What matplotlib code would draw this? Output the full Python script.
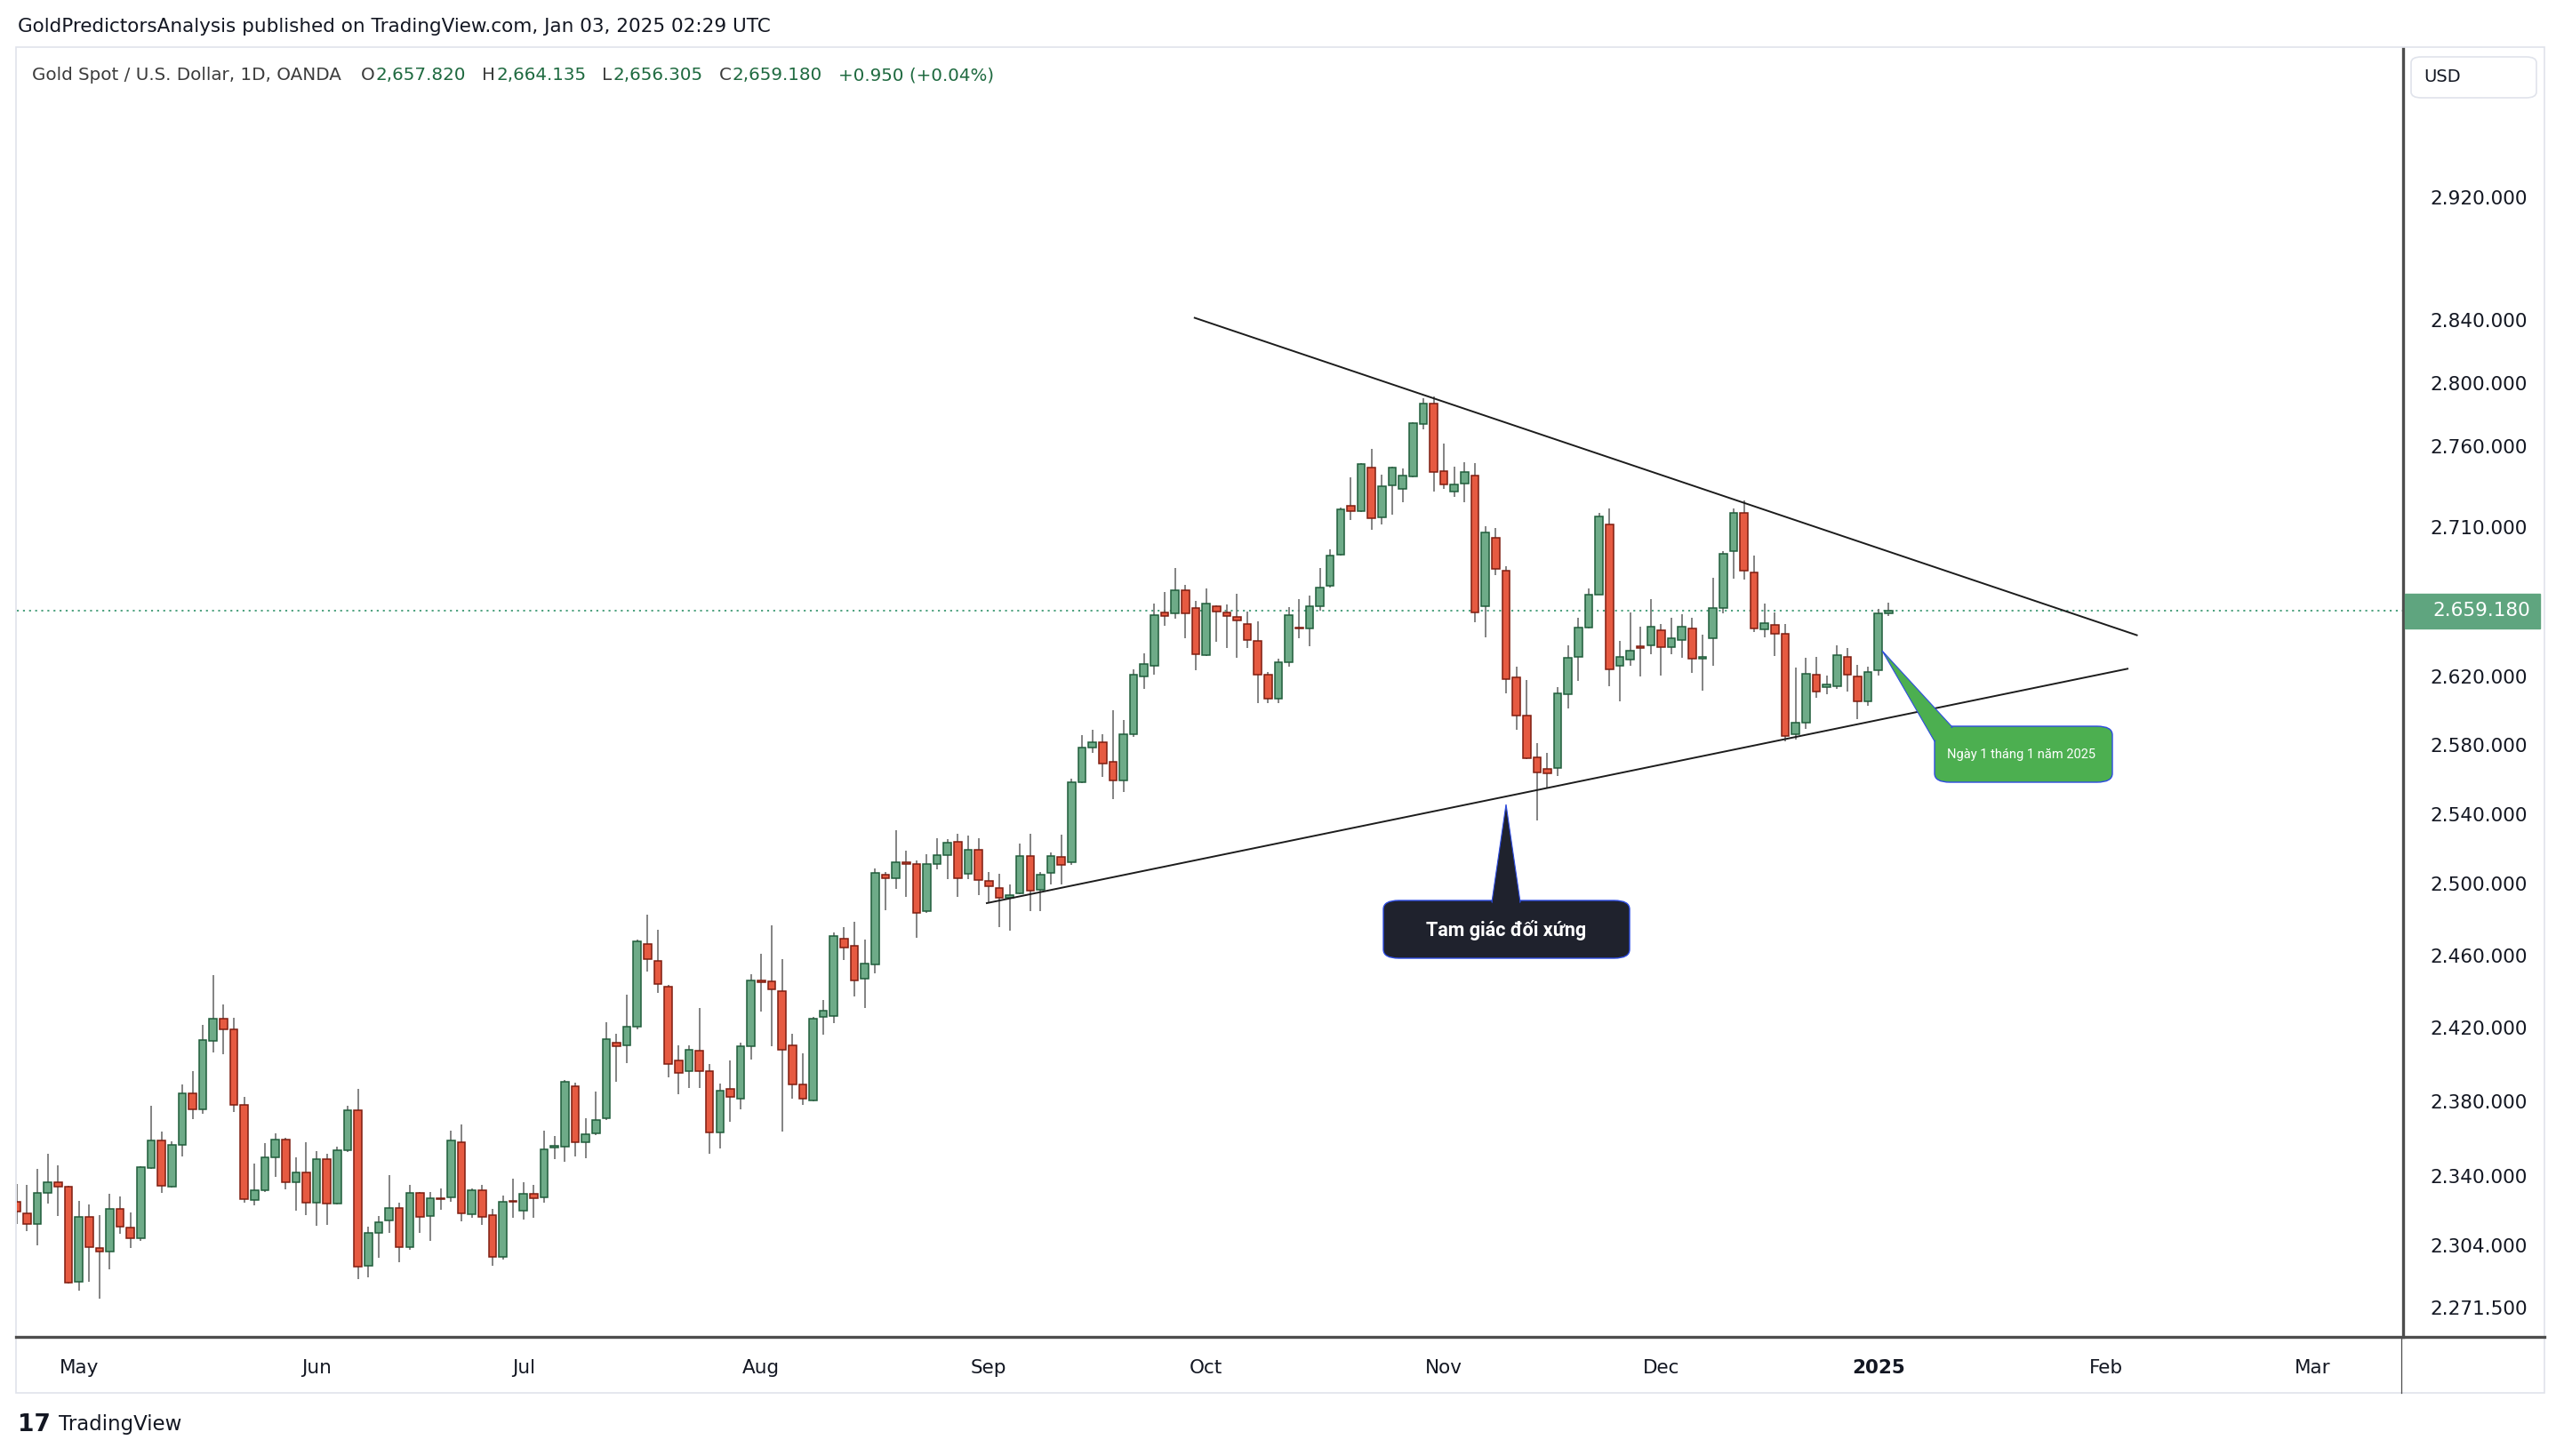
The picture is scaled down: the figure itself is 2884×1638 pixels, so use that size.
import matplotlib
matplotlib.use('Agg')
import matplotlib.pyplot as plt
from matplotlib.patches import FancyBboxPatch, Polygon, Rectangle
from matplotlib.lines import Line2D
import numpy as np
import pandas as pd

# ---- data (XAUUSD daily, OANDA) ----
holidays = ['2024-12-25', '2025-01-01']
dates = pd.bdate_range('2024-04-23', '2025-01-03').drop(pd.to_datetime(holidays))

opens = [2326.7, 2320.6, 2314.9, 2331.2, 2337.1, 2334.5, 2284.8, 2318.7, 2302.2, 2300.7,
         2322.9, 2312.9, 2307.7, 2344.5, 2359.1, 2334.7, 2356.9, 2384.6, 2375.7, 2413.0,
         2425.1, 2419.2, 2378.1, 2327.5, 2332.5, 2350.0, 2359.5, 2336.8, 2341.9, 2326.3,
         2349.4, 2325.5, 2353.7, 2375.1, 2293.2, 2310.5, 2316.7, 2323.5, 2303.0, 2331.1,
         2319.1, 2328.5, 2329.0, 2358.2, 2319.9, 2332.6, 2319.4, 2298.0, 2327.0, 2322.1,
         2330.6, 2329.0, 2355.5, 2355.8, 2388.4, 2358.2, 2362.9, 2370.8, 2411.8, 2410.5,
         2420.5, 2466.2, 2457.0, 2442.4, 2402.0, 2396.2, 2407.3, 2396.5, 2363.2, 2386.7,
         2381.6, 2409.7, 2446.2, 2445.4, 2440.1, 2410.2, 2389.1, 2380.4, 2425.8, 2426.6,
         2469.2, 2465.4, 2447.1, 2454.9, 2505.4, 2503.4, 2512.4, 2511.2, 2484.5, 2511.2,
         2516.2, 2524.1, 2505.7, 2519.6, 2501.7, 2497.9, 2492.0, 2494.9, 2515.8, 2496.5,
         2506.5, 2515.5, 2512.4, 2558.4, 2578.2, 2581.5, 2569.9, 2559.2, 2586.1, 2620.0,
         2626.6, 2658.4, 2658.0, 2672.0, 2661.2, 2632.6, 2662.0, 2658.6, 2655.7, 2651.2,
         2641.3, 2621.0, 2606.9, 2628.6, 2649.5, 2649.0, 2662.0, 2674.2, 2693.1, 2723.0,
         2719.8, 2747.1, 2716.3, 2735.7, 2733.9, 2741.2, 2774.0, 2786.7, 2744.8, 2732.0,
         2737.0, 2742.1, 2662.0, 2703.7, 2683.4, 2619.8, 2597.1, 2572.8, 2565.8, 2566.6,
         2609.8, 2632.0, 2649.4, 2669.3, 2712.0, 2626.7, 2630.4, 2638.1, 2638.5, 2647.8,
         2637.8, 2641.8, 2648.7, 2630.5, 2642.7, 2661.2, 2695.4, 2718.8, 2682.7, 2648.3,
         2651.0, 2645.8, 2586.3, 2593.0, 2621.0, 2613.6, 2614.5, 2631.9, 2620.0, 2605.2,
         2623.7, 2657.82]
highs = [2336.0, 2335.7, 2343.8, 2351.8, 2345.9, 2335.2, 2327.2, 2325.2, 2319.4, 2330.9,
         2329.4, 2320.9, 2345.5, 2377.5, 2363.7, 2358.6, 2389.3, 2396.6, 2421.6, 2448.8,
         2433.0, 2425.3, 2382.5, 2346.7, 2357.6, 2362.7, 2360.5, 2350.3, 2358.4, 2353.2,
         2351.8, 2356.0, 2377.5, 2387.0, 2313.6, 2319.0, 2340.6, 2326.0, 2335.7, 2332.0,
         2331.7, 2333.6, 2364.2, 2367.7, 2333.6, 2335.7, 2322.9, 2330.1, 2338.6, 2337.1,
         2335.7, 2364.2, 2361.3, 2391.6, 2390.0, 2370.8, 2385.5, 2422.9, 2416.9, 2438.1,
         2468.7, 2482.6, 2474.2, 2443.7, 2410.5, 2410.5, 2430.7, 2400.1, 2389.9, 2402.2,
         2412.1, 2449.5, 2460.8, 2476.5, 2457.9, 2416.9, 2406.2, 2426.0, 2435.1, 2472.5,
         2475.7, 2478.6, 2468.7, 2508.7, 2506.6, 2530.5, 2518.7, 2513.2, 2517.0, 2526.0,
         2525.5, 2528.3, 2527.4, 2525.8, 2506.6, 2505.7, 2499.5, 2523.0, 2528.3, 2506.6,
         2517.8, 2528.0, 2560.2, 2585.7, 2588.7, 2586.1, 2600.0, 2594.4, 2624.3, 2633.7,
         2663.8, 2670.7, 2685.4, 2674.7, 2665.3, 2672.8, 2662.6, 2662.9, 2669.8, 2659.0,
         2653.2, 2622.7, 2630.5, 2661.4, 2666.6, 2668.5, 2685.4, 2696.3, 2722.1, 2740.7,
         2749.5, 2758.7, 2742.5, 2747.6, 2746.1, 2775.4, 2790.4, 2791.4, 2762.0, 2747.6,
         2750.3, 2749.5, 2710.7, 2709.8, 2686.1, 2626.2, 2618.0, 2580.8, 2575.4, 2613.8,
         2638.4, 2655.2, 2672.8, 2719.1, 2721.8, 2641.5, 2658.3, 2650.0, 2666.6, 2651.2,
         2655.4, 2657.2, 2655.4, 2644.9, 2679.3, 2695.6, 2721.7, 2726.6, 2692.9, 2663.8,
         2658.6, 2651.6, 2625.4, 2631.3, 2631.9, 2620.5, 2638.6, 2637.3, 2627.2, 2626.0,
         2660.7, 2664.135]
lows = [2315.0, 2311.3, 2304.0, 2325.5, 2319.0, 2284.0, 2280.5, 2284.8, 2276.3, 2291.4,
        2309.8, 2302.5, 2306.0, 2343.8, 2331.1, 2334.1, 2350.5, 2370.5, 2373.2, 2406.3,
        2405.7, 2374.3, 2326.3, 2324.8, 2332.0, 2339.7, 2333.4, 2321.8, 2319.5, 2314.0,
        2314.6, 2325.0, 2352.9, 2286.2, 2287.0, 2297.3, 2310.2, 2295.2, 2301.4, 2310.2,
        2306.0, 2322.6, 2326.7, 2316.4, 2318.0, 2314.5, 2293.4, 2296.2, 2318.3, 2317.5,
        2318.3, 2326.3, 2349.1, 2347.8, 2350.6, 2349.6, 2362.1, 2370.0, 2390.5, 2400.6,
        2419.2, 2450.8, 2439.1, 2393.0, 2383.8, 2387.5, 2387.5, 2352.2, 2355.0, 2368.9,
        2375.9, 2402.8, 2428.8, 2410.0, 2364.0, 2381.4, 2378.0, 2380.0, 2416.1, 2422.4,
        2457.5, 2437.0, 2431.0, 2450.0, 2485.4, 2497.0, 2492.9, 2469.9, 2483.7, 2508.4,
        2502.9, 2492.9, 2502.9, 2493.7, 2489.6, 2475.5, 2473.8, 2494.0, 2484.5, 2484.5,
        2499.8, 2499.5, 2510.8, 2557.9, 2575.2, 2561.3, 2548.6, 2552.4, 2584.6, 2612.9,
        2621.4, 2650.3, 2654.4, 2642.7, 2623.8, 2632.3, 2640.9, 2636.8, 2631.4, 2637.3,
        2604.5, 2604.5, 2604.5, 2626.0, 2643.0, 2638.2, 2659.3, 2673.2, 2692.5, 2714.3,
        2719.2, 2708.6, 2712.0, 2717.6, 2725.2, 2740.7, 2771.0, 2732.0, 2733.5, 2729.0,
        2725.2, 2652.5, 2643.5, 2680.7, 2610.3, 2588.8, 2571.5, 2536.0, 2554.8, 2562.0,
        2601.0, 2617.5, 2648.8, 2668.8, 2614.3, 2605.2, 2626.4, 2620.0, 2633.2, 2620.5,
        2633.2, 2631.4, 2622.3, 2611.8, 2626.4, 2657.8, 2678.9, 2678.0, 2646.4, 2643.5,
        2632.3, 2582.0, 2583.0, 2589.0, 2607.6, 2609.4, 2613.0, 2611.0, 2595.0, 2602.7,
        2620.5, 2656.305]
closes = [2321.4, 2314.9, 2331.4, 2337.1, 2334.7, 2284.6, 2318.7, 2302.8, 2300.7, 2322.9,
          2313.5, 2307.7, 2345.0, 2359.1, 2334.9, 2356.9, 2384.6, 2375.7, 2413.2, 2425.1,
          2419.0, 2378.1, 2327.8, 2332.6, 2350.0, 2359.5, 2337.1, 2341.9, 2326.3, 2349.4,
          2325.5, 2353.8, 2375.1, 2292.9, 2310.5, 2316.1, 2323.5, 2303.0, 2331.1, 2318.7,
          2328.4, 2328.0, 2359.0, 2320.6, 2332.9, 2318.7, 2298.0, 2326.4, 2326.4, 2330.6,
          2328.3, 2354.5, 2356.5, 2390.8, 2358.2, 2362.5, 2370.0, 2414.0, 2409.7, 2420.5,
          2467.9, 2457.9, 2444.0, 2400.1, 2395.4, 2408.1, 2396.2, 2363.2, 2385.9, 2382.7,
          2409.7, 2446.2, 2444.9, 2440.9, 2408.1, 2389.1, 2381.6, 2424.9, 2429.5, 2470.9,
          2464.1, 2446.2, 2455.4, 2506.2, 2503.2, 2512.4, 2511.5, 2483.7, 2511.2, 2516.2,
          2523.3, 2503.4, 2519.6, 2502.4, 2498.7, 2492.0, 2493.7, 2516.1, 2496.0, 2505.4,
          2515.8, 2510.8, 2558.4, 2578.2, 2581.5, 2569.1, 2559.2, 2586.1, 2621.0, 2627.3,
          2656.8, 2656.2, 2672.0, 2658.0, 2633.5, 2663.8, 2659.0, 2656.2, 2653.5, 2641.8,
          2621.0, 2606.9, 2628.6, 2656.8, 2648.5, 2662.0, 2673.6, 2692.7, 2721.2, 2719.8,
          2749.1, 2715.8, 2735.3, 2747.1, 2742.1, 2774.4, 2786.7, 2744.3, 2736.6, 2736.2,
          2744.0, 2658.3, 2707.1, 2684.5, 2618.4, 2597.1, 2572.0, 2564.1, 2563.3, 2610.3,
          2631.0, 2649.4, 2669.3, 2716.7, 2624.2, 2631.9, 2635.4, 2637.2, 2649.6, 2637.6,
          2642.7, 2649.6, 2630.9, 2632.0, 2660.8, 2693.8, 2718.8, 2683.4, 2648.7, 2651.9,
          2645.8, 2585.0, 2593.0, 2621.8, 2611.3, 2615.4, 2632.8, 2621.0, 2605.2, 2622.8,
          2658.0, 2659.18]

month_labels = ['May', 'Jun', 'Jul', 'Aug', 'Sep', 'Oct', 'Nov', 'Dec', '2025', 'Feb', 'Mar']
price_ticks = [2271.5, 2304, 2340, 2380, 2420, 2460, 2500, 2540, 2580, 2620, 2710, 2760, 2800, 2840, 2920]

# triangle trend lines: (bar index, price)
upper_line_x = [113.9, 205.0]
upper_line_y = [2841.5, 2644.7]
lower_line_x = [93.8, 204.1]
lower_line_y = [2489.2, 2624.7]

# ---- layout helpers (pixel -> figure fraction) ----
W, H = 2884, 1638
def fx(px):
    return px / W
def fy(py):
    return 1 - py / H

fig = plt.figure(figsize=(W / 100, H / 100), dpi=100)
fig.patch.set_facecolor('white')
ax = fig.add_axes([fx(19), fy(1504), fx(2703) - fx(19), fy(55) - fy(1504)])

x = np.arange(len(dates))
o, h, l, c = map(np.array, (opens, highs, lows, closes))
up = c >= o
body_low = np.minimum(o, c)
body_h = np.maximum(np.abs(c - o), 0.5)

ax.vlines(x, l, h, color='#6e6e6e', lw=1.2, zorder=2)
ax.bar(x[up], body_h[up], bottom=body_low[up], width=0.74, color='#6eab88',
       edgecolor='#1f5c3a', lw=1.1, zorder=3)
ax.bar(x[~up], body_h[~up], bottom=body_low[~up], width=0.74, color='#e65a41',
       edgecolor='#7e1d10', lw=1.1, zorder=3)

ax.set_yscale('log')
ax.set_ylim(2256.6, 3019.7)
ax.set_xlim(0.02, 230.74)

# month ticks from the trading calendar (incl. future bars)
cal = pd.bdate_range('2024-04-23', '2025-03-31').drop(pd.to_datetime(holidays))
firsts = pd.Series(np.arange(len(cal)), index=cal).groupby([cal.year, cal.month]).first()
month_pos = list(firsts.values[1:])
ax.set_xticks(month_pos, labels=month_labels)
ax.tick_params(axis='x', length=0, pad=18, labelsize=15.5, labelcolor='#131722')
for t in ax.get_xticklabels():
    if t.get_text() == '2025':
        t.set_fontweight('bold')

ax.yaxis.tick_right()
ax.set_yticks(price_ticks, labels=[f"{v:,.3f}".replace(',', '.') for v in price_ticks])
ax.set_yticks([], minor=True)
ax.tick_params(axis='y', length=0, pad=22, labelsize=15.5, labelcolor='#131722')
for s in ax.spines.values():
    s.set_visible(False)

# last price line + tag
last = closes[-1]
ax.axhline(last, color='#3f9a74', lw=1.3, ls=(0, (1.2, 2.6)), zorder=1)
ax.plot(upper_line_x, upper_line_y, color='#1c1c1c', lw=1.4, zorder=4)
ax.plot(lower_line_x, lower_line_y, color='#1c1c1c', lw=1.4, zorder=4)

fig.canvas.draw()
ly = ax.transData.transform((0, last))[1] / fig.dpi / fig.get_figheight()
fig.patches.append(Rectangle((fx(2705), ly - 19.5 / H), fx(2857) - fx(2705), 39 / H,
                             transform=fig.transFigure, color='#5fa57f', zorder=5))
fig.text(fx(2736), ly, f"{last:,.3f}".replace(',', '.'), color='white', size=15.5,
         va='center', ha='left', zorder=6)

# frame lines
fig.add_artist(Rectangle((fx(18), fy(1567)), fx(2862) - fx(18), fy(53) - fy(1567),
                         transform=fig.transFigure, fill=False, ec='#e0e3eb', lw=1.2))
fig.add_artist(Line2D([fx(18), fx(2862)], [fy(1504), fy(1504)], color='#4d4d4d', lw=2.4))
fig.add_artist(Line2D([fx(2703), fx(2703)], [fy(55), fy(1504)], color='#4d4d4d', lw=2.4))
fig.add_artist(Line2D([fx(2701), fx(2701)], [fy(1504), fy(1567)], color='#4d4d4d', lw=0.9))

# USD box
fig.patches.append(FancyBboxPatch((fx(2712), fy(110)), fx(2853) - fx(2712), fy(64) - fy(110),
                                  boxstyle='round,pad=0,rounding_size=0.004',
                                  transform=fig.transFigure, fc='white', ec='#e0e3eb', lw=1.2))
fig.text(fx(2726), fy(87), 'USD', size=14, color='#131722', va='center', ha='left')

# title / header
fig.text(fx(20), fy(30), 'GoldPredictorsAnalysis published on TradingView.com, Jan 03, 2025 02:29 UTC',
         size=15.5, color='#131722', va='center', ha='left')

renderer = fig.canvas.get_renderer()
def row(pieces, x0, y, size):
    xp = x0
    for txt, col, gap in pieces:
        t = fig.text(fx(xp), fy(y), txt, size=size, color=col, va='center', ha='left')
        bb = t.get_window_extent(renderer)
        xp += bb.width + gap

gray, green = '#3c3c3c', '#1f6a40'
row([('Gold Spot / U.S. Dollar, 1D, OANDA', gray, 22),
     ('O', gray, 1), ('2,657.820', green, 18),
     ('H', gray, 1), ('2,664.135', green, 18),
     ('L', gray, 1), ('2,656.305', green, 18),
     ('C', gray, 1), ('2,659.180', green, 18),
     ('+0.950 (+0.04%)', green, 0)], 36, 85, 14.3)

# callout: symmetrical triangle
dark = '#1f222d'
fig.patches.append(FancyBboxPatch((fx(1556), fy(1078)), fx(1833) - fx(1556), fy(1013) - fy(1078),
                                  boxstyle='round,pad=0,rounding_size=0.006',
                                  transform=fig.transFigure, fc=dark, ec='#2d4be0', lw=1.0, zorder=5))
fig.patches.append(Polygon([(fx(1678), fy(1015)), (fx(1694), fy(905)), (fx(1710), fy(1015))],
                           closed=True, transform=fig.transFigure, fc=dark, ec='#2d4be0', lw=0.8, zorder=5))
fig.patches.append(Rectangle((fx(1679), fy(1018)), fx(1709) - fx(1679), 6 / H,
                             transform=fig.transFigure, fc=dark, ec='none', zorder=6))
fig.text(fx(1694), fy(1046), 'Tam giác đối xứng', family='Roboto', weight='bold', size=15.5,
         color='white', ha='center', va='center', zorder=7)

# callout: Jan 1 2025
gcol = '#4caf50'
fig.patches.append(FancyBboxPatch((fx(2176), fy(880)), fx(2376) - fx(2176), fy(817) - fy(880),
                                  boxstyle='round,pad=0,rounding_size=0.006',
                                  transform=fig.transFigure, fc=gcol, ec='#2d4be0', lw=1.0, zorder=5))
fig.patches.append(Polygon([(fx(2176), fy(834)), (fx(2117), fy(732)), (fx(2196), fy(818))],
                           closed=True, transform=fig.transFigure, fc=gcol, ec='#2d4be0', lw=0.8, zorder=5))
fig.patches.append(Polygon([(fx(2177), fy(836)), (fx(2178), fy(819)), (fx(2198), fy(819))],
                           closed=True, transform=fig.transFigure, fc=gcol, ec='none', zorder=6))
fig.text(fx(2273), fy(849), 'Ngày 1 tháng 1 năm 2025', family='Roboto', size=10.5,
         color='white', ha='center', va='center', zorder=7)

# logo
fig.text(fx(20), fy(1603), '17', size=19, weight='heavy', color='#131722', va='center', ha='left')
fig.text(fx(66), fy(1603), 'TradingView', size=16.5, color='#131722', va='center', ha='left')

fig.savefig('out.png', dpi=100, facecolor='white')
